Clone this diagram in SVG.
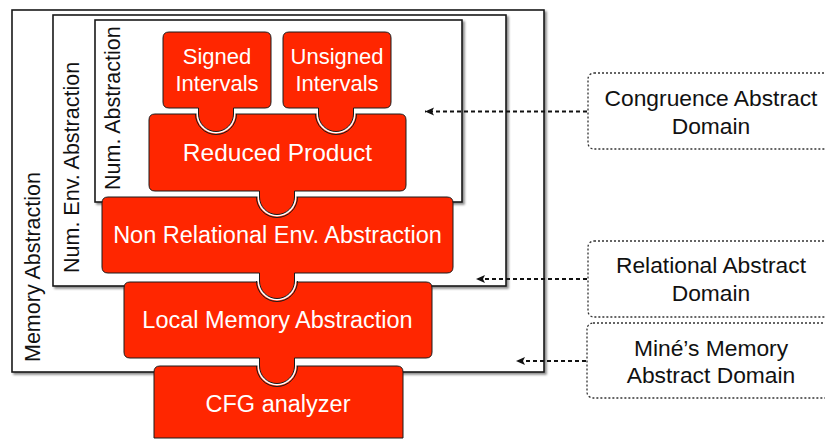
<svg xmlns="http://www.w3.org/2000/svg" width="825" height="440" viewBox="0 0 825 440">
<style>
text{font-family:"Liberation Sans",Arial,Helvetica,sans-serif;}
.box{fill:#fff;stroke:#1a1a1a;stroke-width:1.6;filter:url(#sh);}
.lbl{font-size:21.5px;fill:#111;}
.tile{fill:#ff2600;stroke:#1a1a1a;stroke-width:1;}
.halo{fill:none;stroke:#fff;stroke-width:4;}
.notch{fill:none;stroke:#1a1a1a;stroke-width:1;}
.tt{font-size:23.5px;fill:#fff;text-anchor:middle;}
.ts{font-size:22px;fill:#fff;text-anchor:middle;}
.call{fill:#fff;stroke:#333;stroke-width:1.3;stroke-dasharray:2 2;}
.ct{font-size:22.8px;fill:#111;text-anchor:middle;}
.arr{fill:none;stroke:#111;stroke-width:2;stroke-dasharray:4 3;marker-end:url(#ah);}
</style>
<defs>
<filter id="sh" x="-5%" y="-5%" width="110%" height="110%">
<feDropShadow dx="2" dy="2" stdDeviation="1.2" flood-color="#000" flood-opacity="0.45"/>
</filter>
<marker id="ah" markerUnits="userSpaceOnUse" markerWidth="10" markerHeight="10" refX="9" refY="4.5" orient="auto">
<path d="M0,0.5 L9,4.5 L0,8.5 L2,4.5 Z" fill="#111"/>
</marker>
</defs>

<g id="memory-abstraction">
<rect class="box" x="12" y="10" width="532" height="362"/>
<text class="lbl" transform="translate(40,362) rotate(-90)">Memory Abstraction</text>
</g>
<g id="num-env-abstraction">
<rect class="box" x="53" y="15" width="453" height="271"/>
<text class="lbl" transform="translate(79,273) rotate(-90)">Num. Env. Abstraction</text>
</g>
<g id="num-abstraction">
<rect class="box" x="95" y="20" width="367" height="182"/>
<text class="lbl" transform="translate(120,190) rotate(-90)">Num. Abstraction</text>
</g>

<g id="cfg-analyzer">
<path class="tile" d="M160,366 H397 Q403,366 403,372 V438 H154 V372 Q154,366 160,366 Z"/>
<text class="tt" x="278" y="412">CFG analyzer</text>
</g>

<g id="local-memory">
<path class="notch" d="M297.5,366 A20.5,20.5 0 0 1 256.5,366"/>
<path class="halo" d="M294.5,358 V366 A17.5,17.5 0 0 1 259.5,366 V358"/>
<path class="tile" d="M130,282 H426 Q432,282 432,288 V352 Q432,358 426,358 H294.5 V366 A17.5,17.5 0 0 1 259.5,366 V358 H130 Q124,358 124,352 V288 Q124,282 130,282 Z"/>
<text class="tt" x="277.5" y="328">Local Memory Abstraction</text>
</g>

<g id="non-relational-env">
<path class="notch" d="M297.5,281 A20.5,20.5 0 0 1 256.5,281"/>
<path class="halo" d="M294.5,273 V281 A17.5,17.5 0 0 1 259.5,281 V273"/>
<path class="tile" d="M108,197 H447 Q453,197 453,203 V267 Q453,273 447,273 H294.5 V281 A17.5,17.5 0 0 1 259.5,281 V273 H108 Q102,273 102,267 V203 Q102,197 108,197 Z"/>
<text class="tt" x="277.5" y="243">Non Relational Env. Abstraction</text>
</g>

<g id="reduced-product">
<path class="notch" d="M297.5,197 A20.5,20.5 0 0 1 256.5,197"/>
<path class="halo" d="M294.5,191 V197 A17.5,17.5 0 0 1 259.5,197 V191"/>
<path class="tile" d="M155,114 H400 Q406,114 406,120 V185 Q406,191 400,191 H294.5 V197 A17.5,17.5 0 0 1 259.5,197 V191 H155 Q149,191 149,185 V120 Q149,114 155,114 Z"/>
<text class="tt" x="277.5" y="161" style="font-size:24.5px">Reduced Product</text>
</g>

<g id="signed-intervals">
<path class="notch" d="M236.5,114 A20.5,20.5 0 0 1 195.5,114"/>
<path class="halo" d="M233.5,108 V114 A17.5,17.5 0 0 1 198.5,114 V108"/>
<path class="tile" d="M169,32 H265 Q271,32 271,38 V102 Q271,108 265,108 H233.5 V114 A17.5,17.5 0 0 1 198.5,114 V108 H169 Q163,108 163,102 V38 Q163,32 169,32 Z"/>
<text class="ts" x="217" y="64">Signed</text>
<text class="ts" x="217" y="91">Intervals</text>
</g>

<g id="unsigned-intervals">
<path class="notch" d="M356.5,114 A20.5,20.5 0 0 1 315.5,114"/>
<path class="halo" d="M353.5,108 V114 A17.5,17.5 0 0 1 318.5,114 V108"/>
<path class="tile" d="M289,32 H385 Q391,32 391,38 V102 Q391,108 385,108 H353.5 V114 A17.5,17.5 0 0 1 318.5,114 V108 H289 Q283,108 283,102 V38 Q283,32 289,32 Z"/>
<text class="ts" x="337" y="64">Unsigned</text>
<text class="ts" x="337" y="91">Intervals</text>
</g>

<g id="congruence-domain">
<rect class="call" x="588" y="73" width="260" height="76" rx="6"/>
<text class="ct" x="711" y="106">Congruence Abstract</text>
<text class="ct" x="711" y="134">Domain</text>
</g>
<g id="relational-domain">
<rect class="call" x="588" y="241" width="260" height="76" rx="6"/>
<text class="ct" x="711" y="273">Relational Abstract</text>
<text class="ct" x="711" y="301">Domain</text>
</g>
<g id="mine-memory-domain">
<rect class="call" x="587" y="323" width="260" height="75" rx="6"/>
<text class="ct" x="711" y="356">Miné’s Memory</text>
<text class="ct" x="711" y="383">Abstract Domain</text>
</g>

<g id="connectors">
<line class="arr" x1="587" y1="111.5" x2="425" y2="111.5"/>
<line class="arr" x1="587" y1="279" x2="476" y2="279"/>
<line class="arr" x1="586" y1="361" x2="516" y2="361"/>
</g>
</svg>
